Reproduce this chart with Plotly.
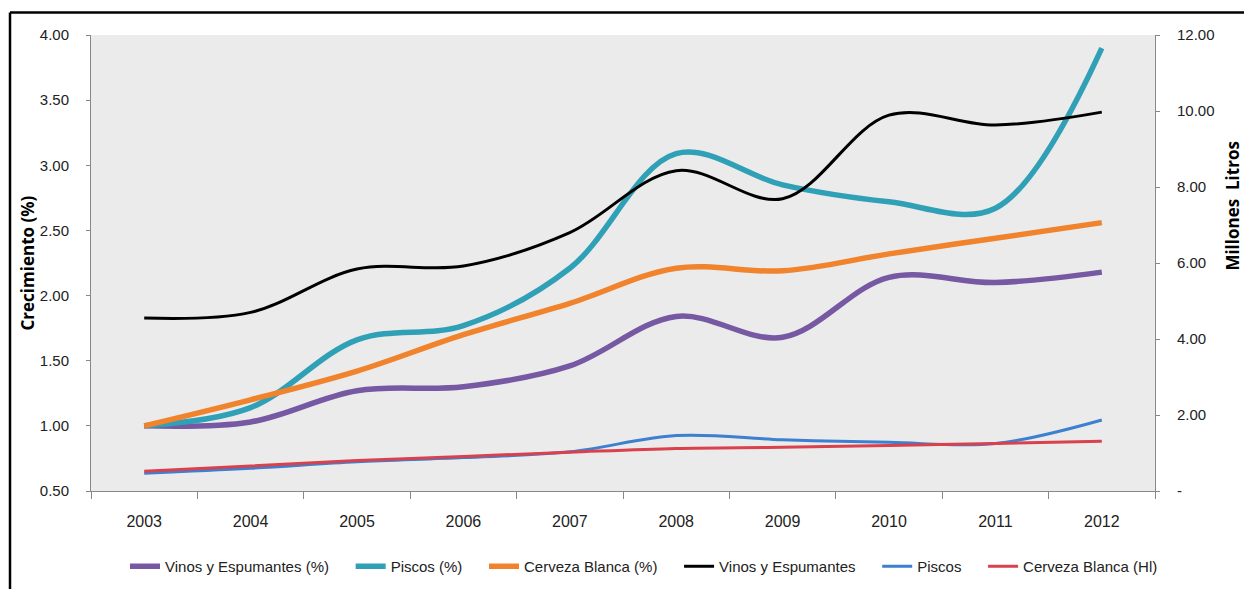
import plotly.graph_objects as go

# Años
years = ["2003", "2004", "2005", "2006", "2007", "2008", "2009", "2010", "2011", "2012"]

# Crecimiento (%), eje izquierdo
vinos_pct = [1.00, 1.03, 1.27, 1.30, 1.46, 1.84, 1.68, 2.14, 2.10, 2.18]
piscos_pct = [1.00, 1.14, 1.66, 1.77, 2.21, 3.09, 2.85, 2.72, 2.67, 3.90]
cerveza_pct = [1.00, 1.20, 1.42, 1.70, 1.94, 2.21, 2.19, 2.32, 2.44, 2.56]

# Millones de litros, eje derecho
vinos_vol = [4.55, 4.70, 5.84, 5.92, 6.80, 8.43, 7.69, 9.89, 9.63, 9.97]
piscos_vol = [0.47, 0.60, 0.77, 0.88, 1.03, 1.46, 1.35, 1.28, 1.25, 1.87]
cerveza_vol = [0.52, 0.66, 0.80, 0.91, 1.02, 1.12, 1.15, 1.20, 1.25, 1.31]

left_ticks = [0.5, 1.0, 1.5, 2.0, 2.5, 3.0, 3.5, 4.0]
right_ticks = [0, 2, 4, 6, 8, 10, 12]
right_ticktext = ["-", "2.00", "4.00", "6.00", "8.00", "10.00", "12.00"]

FONT = "Liberation Sans, Arial, sans-serif"
TITLE_FONT = "Open Sans, Liberation Sans, sans-serif"

series = [
    ("Vinos y Espumantes (%)", vinos_pct, "y", "#7658a3", 5.5),
    ("Piscos (%)", piscos_pct, "y", "#30a0b6", 5.5),
    ("Cerveza Blanca (%)", cerveza_pct, "y", "#f0832c", 5.5),
    ("Vinos y Espumantes", vinos_vol, "y2", "#000000", 3),
    ("Piscos", piscos_vol, "y2", "#3d7fd0", 3),
    ("Cerveza Blanca (Hl)", cerveza_vol, "y2", "#d9414c", 3),
]

# espacio extra entre entradas de la leyenda
GAP = "\u00a0" * 4

fig = go.Figure()
for i, (name, vals, axis, color, width) in enumerate(series):
    label = name + (GAP if i < len(series) - 1 else "")
    fig.add_trace(go.Scatter(
        x=years, y=vals, name=label, yaxis=axis, mode="lines",
        line=dict(color=color, width=width, shape="spline", smoothing=1.0),
    ))

W, H = 1244, 595
ml, mr, mt, mb = 91, 89, 35, 95
pw = W - ml - mr
ph = H - mt - mb

def px_x(p):
    return (p - ml) / pw

def px_y(p):
    return (H - mb - p) / ph

fig.update_layout(
    width=W, height=H,
    margin=dict(l=ml, r=mr, t=mt, b=mb, pad=0),
    paper_bgcolor="white",
    plot_bgcolor="#ebebeb",
    font=dict(family=FONT, size=15, color="#222222"),
    showlegend=True,
    legend=dict(
        orientation="h", x=px_x(644), xanchor="center", y=px_y(577), yanchor="middle",
        font=dict(family=FONT, size=15, color="#222222"),
        bgcolor="rgba(0,0,0,0)", itemwidth=30, tracegroupgap=0,
    ),
    xaxis=dict(
        type="category", range=[-0.5, 9.5], showgrid=False, zeroline=False,
        showline=True, linecolor="#888888", linewidth=1,
        ticks="outside", tickson="boundaries", ticklen=7, tickcolor="#888888",
        ticklabelstandoff=16,
        tickfont=dict(family=FONT, size=16, color="#222222"),
    ),
    yaxis=dict(
        range=[0.5, 4.0], tickvals=left_ticks, tickformat=".2f",
        showgrid=False, zeroline=False, showline=True, linecolor="#888888",
        linewidth=1, ticks="outside", ticklen=4, tickcolor="#888888",
        ticklabelstandoff=14,
        tickfont=dict(family=FONT, size=15, color="#222222"),
    ),
    yaxis2=dict(
        range=[0, 12], tickvals=right_ticks, ticktext=right_ticktext,
        overlaying="y", side="right", showgrid=False, zeroline=False,
        showline=True, linecolor="#888888", linewidth=1,
        ticks="outside", ticklen=4, tickcolor="#888888",
        ticklabelstandoff=14,
        tickfont=dict(family=FONT, size=15, color="#222222"),
    ),
)

# Títulos de los ejes verticales
fig.add_annotation(
    text="<b>Crecimiento (%)</b>", textangle=-90, showarrow=False,
    xref="paper", yref="paper", x=px_x(27), y=px_y(268),
    xanchor="center", yanchor="middle",
    font=dict(family=TITLE_FONT, size=17, color="#000000"),
)
fig.add_annotation(
    text="<b>Millones  Litros</b>", textangle=-90, showarrow=False,
    xref="paper", yref="paper", x=px_x(1233), y=px_y(210),
    xanchor="center", yanchor="middle",
    font=dict(family=TITLE_FONT, size=17, color="#000000"),
)

# Marco exterior del gráfico
fig.add_shape(type="line", xref="paper", yref="paper",
              x0=px_x(10), x1=px_x(W + 5), y0=px_y(12), y1=px_y(12),
              line=dict(color="black", width=2.5))
fig.add_shape(type="line", xref="paper", yref="paper",
              x0=px_x(10), x1=px_x(10), y0=px_y(12), y1=px_y(H + 5),
              line=dict(color="black", width=2.5))

fig.write_html("out.html")
